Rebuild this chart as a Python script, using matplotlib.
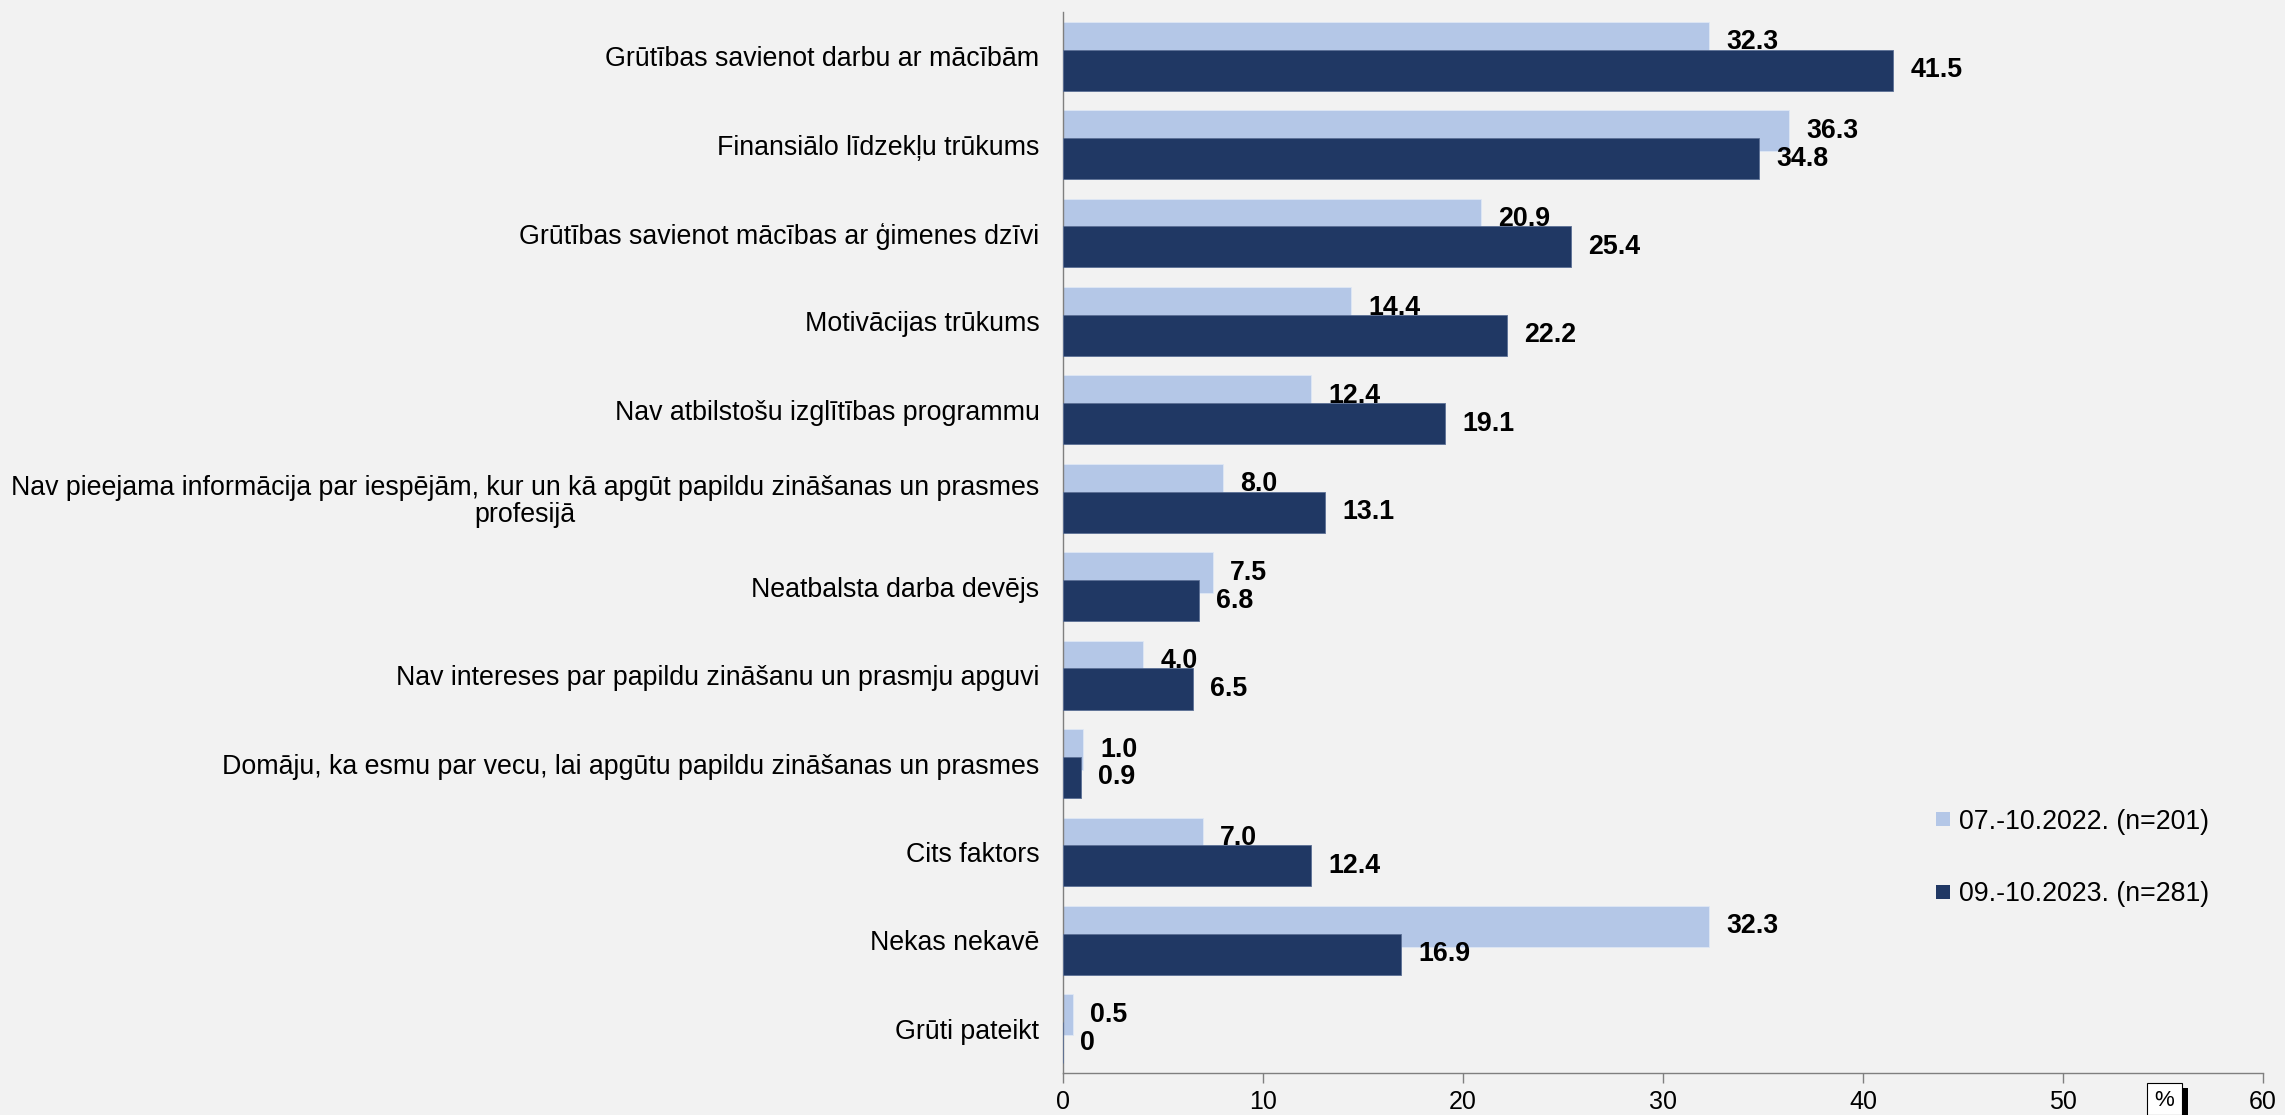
import matplotlib
matplotlib.use("Agg")
import matplotlib.pyplot as plt
from matplotlib.lines import Line2D
from matplotlib.patches import Rectangle
import numpy as np

plt.rcParams['font.family'] = ['Liberation Sans', 'DejaVu Sans']

categories = [
    "Grūtības savienot darbu ar mācībām",
    "Finansiālo līdzekļu trūkums",
    "Grūtības savienot mācības ar ģimenes dzīvi",
    "Motivācijas trūkums",
    "Nav atbilstošu izglītības programmu",
    "Nav pieejama informācija par iespējām, kur un kā apgūt papildu zināšanas un prasmes\nprofesijā",
    "Neatbalsta darba devējs",
    "Nav intereses par papildu zināšanu un prasmju apguvi",
    "Domāju, ka esmu par vecu, lai apgūtu papildu zināšanas un prasmes",
    "Cits faktors",
    "Nekas nekavē",
    "Grūti pateikt",
]
values_2022 = [32.3, 36.3, 20.9, 14.4, 12.4, 8.0, 7.5, 4.0, 1.0, 7.0, 32.3, 0.5]
values_2023 = [41.5, 34.8, 25.4, 22.2, 19.1, 13.1, 6.8, 6.5, 0.9, 12.4, 16.9, 0.0]
labels_2022 = ["32.3", "36.3", "20.9", "14.4", "12.4", "8.0", "7.5", "4.0", "1.0", "7.0", "32.3", "0.5"]
labels_2023 = ["41.5", "34.8", "25.4", "22.2", "19.1", "13.1", "6.8", "6.5", "0.9", "12.4", "16.9", "0"]
series_names = ["07.-10.2022. (n=201)", "09.-10.2023. (n=281)"]
xticks = [0, 10, 20, 30, 40, 50, 60]

c_light = "#b4c7e7"
c_dark = "#203864"
bg = "#f2f2f2"

W, H = 2285, 1115
fig = plt.figure(figsize=(W / 100, H / 100), dpi=100, facecolor=bg)
ax = fig.add_axes([1063 / W, 1 - 1073 / H, 1200 / W, (1073 - 12) / H])
ax.set_facecolor(bg)

y = np.arange(len(categories))
h = 0.465
off = 0.157
ax.barh(y - off, values_2022, height=h, color=c_light, edgecolor="#dfe7f5", linewidth=0.6, zorder=2)
ax.barh(y + off, values_2023, height=h, color=c_dark, edgecolor="#5b6f95", linewidth=0.6, zorder=3)

for yi, v, t in zip(y, values_2022, labels_2022):
    ax.annotate(t, (v, yi - off), xytext=(12.5, 0), textcoords="offset points",
                ha="left", va="center", fontsize=19.3, fontweight="bold", color="black", zorder=5)
for yi, v, t in zip(y, values_2023, labels_2023):
    ax.annotate(t, (v, yi + off), xytext=(12.5, 0), textcoords="offset points",
                ha="left", va="center", fontsize=19.3, fontweight="bold", color="black", zorder=5)

ax.set_xlim(0, 60)
ax.set_ylim(len(categories) - 0.5, -0.5)
ax.set_xticks(xticks)
ax.set_xticklabels([str(t) for t in xticks], fontsize=18)
ax.set_yticks(y)
ax.set_yticklabels(categories, fontsize=19.3, multialignment="center", linespacing=1.05)
ax.tick_params(axis="y", length=0, pad=17)
ax.tick_params(axis="x", length=7, width=1, color="#7f7f7f", direction="out", pad=5)

for s in ["top", "right"]:
    ax.spines[s].set_visible(False)
for s in ["left", "bottom"]:
    ax.spines[s].set_color("#7f7f7f")
    ax.spines[s].set_linewidth(1)

handles = [Line2D([], [], marker="s", ls="", markersize=10, color=c_light, markeredgewidth=0),
           Line2D([], [], marker="s", ls="", markersize=10, color=c_dark, markeredgewidth=0)]
fig.legend(handles, series_names, loc="center left",
           bbox_to_anchor=(1934 / W, 1 - 858 / H), frameon=False, fontsize=19.3,
           borderpad=0, borderaxespad=0, handlelength=0.7, handletextpad=0.22,
           labelspacing=1.75)

# "%" box with shadow
fig.patches.append(Rectangle((2182 / W, 0), 6 / W, (1115 - 1088) / H, transform=fig.transFigure,
                             facecolor="black", edgecolor="none", zorder=10))
fig.patches.append(Rectangle((2147 / W, 0), 35 / W, (1115 - 1083) / H, transform=fig.transFigure,
                             facecolor="white", edgecolor="black", linewidth=0.8, zorder=11))
fig.text(2164.5 / W, 1 - 1100 / H, "%", ha="center", va="center", fontsize=16, zorder=12)

fig.savefig("out.png", dpi=100, facecolor=bg)
